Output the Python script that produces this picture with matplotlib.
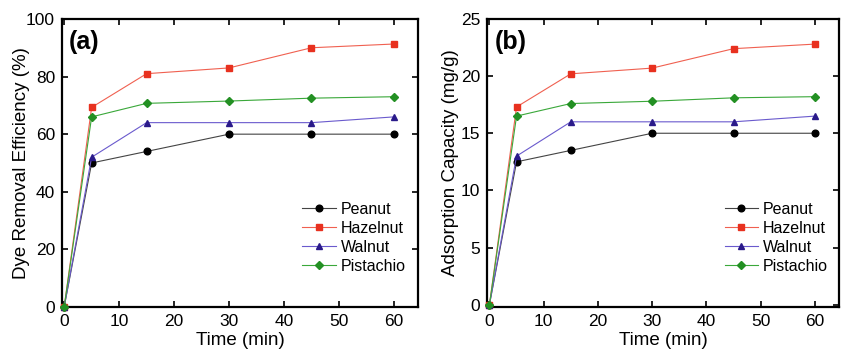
import matplotlib
matplotlib.use('Agg')
import matplotlib.pyplot as plt

plt.rcParams['font.family'] = ['Liberation Sans', 'DejaVu Sans']

time = [0, 5, 15, 30, 45, 60]
names = ['Peanut', 'Hazelnut', 'Walnut', 'Pistachio']

# (a) dye removal efficiency, %
eff_peanut = [0, 50, 54, 60, 60, 60]
eff_hazelnut = [0, 69.3, 81, 83, 90, 91.3]
eff_walnut = [0, 52, 64, 64, 64, 66]
eff_pistachio = [0, 66, 70.7, 71.5, 72.5, 73]

# (b) adsorption capacity, mg/g
cap_peanut = [0, 12.5, 13.5, 15, 15, 15]
cap_hazelnut = [0, 17.3, 20.2, 20.7, 22.4, 22.8]
cap_walnut = [0, 13, 16, 16, 16, 16.5]
cap_pistachio = [0, 16.5, 17.6, 17.8, 18.1, 18.2]

# line color, marker color, marker
styles = [('#444444', 'black', 'o'),
          ('#f06050', '#e8311f', 's'),
          ('#6a5acd', '#2a1a8a', '^'),
          ('#3aa83a', '#239023', 'D')]

fig = plt.figure(figsize=(8.43, 3.51), dpi=100)
ax1 = fig.add_axes([0.0735, 0.1254, 0.4225, 0.8206])
ax2 = fig.add_axes([0.578, 0.1254, 0.417, 0.8206])


def draw(ax, series, ylim, yticks, ylabel, tag, ypad):
    for name, vals, (lc, mc, mk) in zip(names, series, styles):
        ax.plot(time, vals, color=lc, lw=0.8, marker=mk, mfc=mc, mec=mc,
                ms=4.8 if mk != 'D' else 4.2, label=name, clip_on=False,
                zorder=3)
    ax.set_xlim(-0.4, 64.4)
    ax.set_ylim(*ylim)
    ax.set_xticks(range(0, 61, 10))
    ax.set_yticks(yticks)
    ax.tick_params(direction='in', top=True, right=True, length=4, width=1.2,
                   labelsize=12.5, pad=5)
    for s in ax.spines.values():
        s.set_linewidth(1.6)
    ax.set_xlabel('Time (min)', fontsize=13.5, labelpad=2.5)
    ax.set_ylabel(ylabel, fontsize=13.5, labelpad=ypad)
    ax.text(0.02, 0.92, tag, transform=ax.transAxes, fontsize=18,
            fontweight='bold', va='center')
    ax.legend(loc='upper left', bbox_to_anchor=(0.675, 0.365), frameon=False,
              fontsize=11.5, handlelength=2.1, handletextpad=0.3,
              labelspacing=0.25, borderpad=0, borderaxespad=0)


draw(ax1, [eff_peanut, eff_hazelnut, eff_walnut, eff_pistachio],
     (0, 100), range(0, 101, 20), 'Dye Removal Efficiency (%)', '(a)', -3)
draw(ax2, [cap_peanut, cap_hazelnut, cap_walnut, cap_pistachio],
     (-0.2, 25), range(0, 26, 5), 'Adsorption Capacity (mg/g)', '(b)', 1)

plt.savefig('out.png', dpi=100)
